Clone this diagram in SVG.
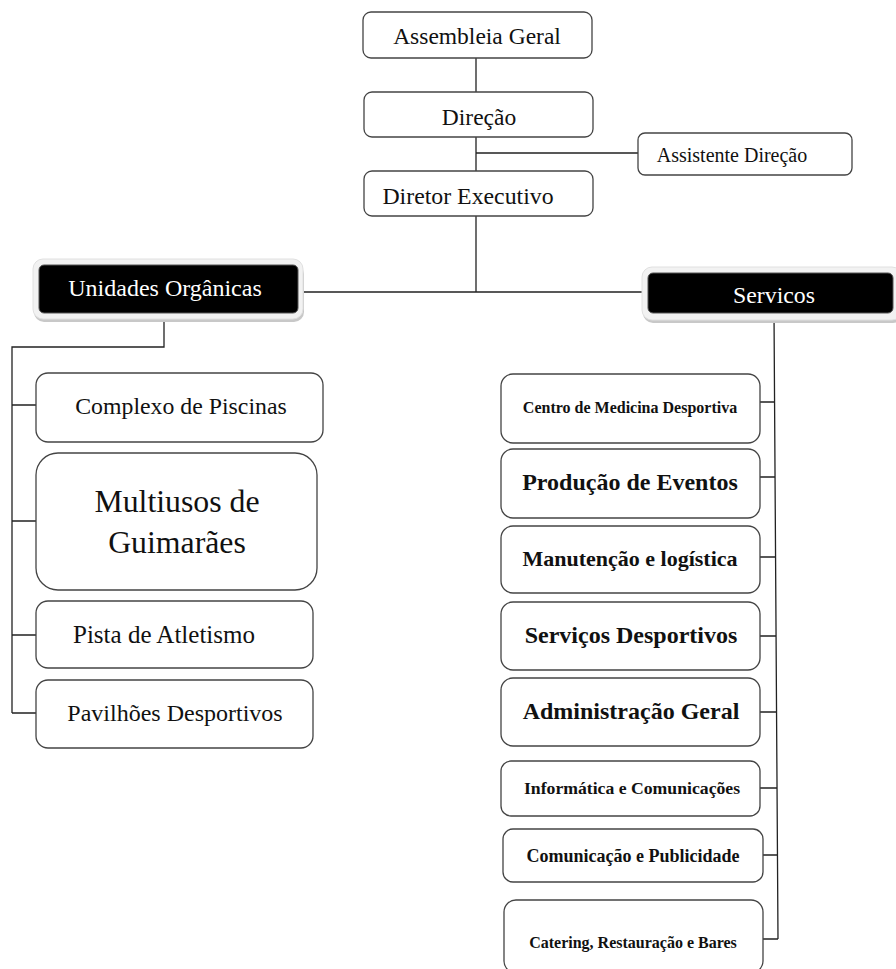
<svg xmlns="http://www.w3.org/2000/svg" width="896" height="969" viewBox="0 0 896 969">
<defs>
<style>
.box{fill:#fff;stroke:#444;stroke-width:1.3}
.ln{fill:none;stroke:#222;stroke-width:1.3}
.t{font-family:"Liberation Serif","Times New Roman",serif;fill:#111;text-anchor:middle}
.b{font-weight:bold}
.w{fill:#fff}
.glow{fill:#f2f2f2;stroke:#e0e0e0;stroke-width:1}
.shadow{fill:#c8c8c8}
.dark{fill:#000;stroke:#555;stroke-width:1}
</style>
</defs>
<rect width="896" height="969" fill="#fff"/>
<g id="connectors">
<path class="ln" d="M476 58V92M476 137V171M476 153H638M476 216V292M298 292H648"/>
<path class="ln" d="M164 313V347H12V713M12 405H36M12 521H36M12 635H36M12 713H36"/>
<path class="ln" d="M774 313L778 939M760 402H775M760 477H775M760 557H776M760 636H776M760 712H777M760 788H777M763 855H777M763 939H778"/>
</g>
<g id="n-assembleia"><rect class="box" x="363" y="12" width="229" height="46" rx="8"/><text class="t" x="477" y="44" font-size="23.5">Assembleia Geral</text></g>
<g id="n-direcao"><rect class="box" x="364" y="92" width="229" height="45" rx="8"/><text class="t" x="479" y="125" font-size="23.5">Direção</text></g>
<g id="n-assistente"><rect class="box" x="638" y="133" width="214" height="42" rx="7"/><text class="t" x="732" y="162" font-size="20">Assistente Direção</text></g>
<g id="n-diretor"><rect class="box" x="364" y="171" width="229" height="45" rx="8"/><text class="t" x="468" y="204" font-size="23.8">Diretor Executivo</text></g>
<g id="n-unidades">
<rect class="shadow" x="34" y="264" width="270" height="58" rx="10"/>
<rect class="glow" x="33" y="259" width="270" height="60" rx="10"/>
<rect class="dark" x="39" y="265" width="259" height="48" rx="5"/>
<text class="t w" x="165" y="296" font-size="24">Unidades Orgânicas</text>
</g>
<g id="n-servicos">
<rect class="shadow" x="643" y="272" width="260" height="51" rx="10"/>
<rect class="glow" x="642" y="267" width="260" height="53" rx="10"/>
<rect class="dark" x="648" y="273" width="245" height="40" rx="5"/>
<text class="t w" x="774" y="303" font-size="23.8">Servicos</text>
</g>
<g id="n-complexo"><rect class="box" x="36" y="373" width="287" height="69" rx="12"/><text class="t" x="181" y="414" font-size="23.8">Complexo de Piscinas</text></g>
<g id="n-multiusos"><rect class="box" x="36" y="453" width="281" height="137" rx="22"/><text class="t" x="177" y="512" font-size="31.8">Multiusos de</text><text class="t" x="177" y="553" font-size="31.8">Guimarães</text></g>
<g id="n-pista"><rect class="box" x="36" y="601" width="277" height="67" rx="12"/><text class="t" x="164" y="643" font-size="25">Pista de Atletismo</text></g>
<g id="n-pavilhoes"><rect class="box" x="36" y="680" width="277" height="68" rx="12"/><text class="t" x="175" y="721" font-size="24">Pavilhões Desportivos</text></g>
<g id="n-centro"><rect class="box" x="501" y="374" width="259" height="69" rx="12"/><text class="t b" x="630" y="413" font-size="16">Centro de Medicina Desportiva</text></g>
<g id="n-producao"><rect class="box" x="501" y="449" width="259" height="69" rx="12"/><text class="t b" x="630" y="490" font-size="24">Produção de Eventos</text></g>
<g id="n-manutencao"><rect class="box" x="501" y="526" width="259" height="67" rx="12"/><text class="t b" x="630" y="566" font-size="22">Manutenção e logística</text></g>
<g id="n-servicosdesp"><rect class="box" x="501" y="602" width="259" height="68" rx="12"/><text class="t b" x="631" y="643" font-size="24">Serviços Desportivos</text></g>
<g id="n-administracao"><rect class="box" x="501" y="678" width="259" height="68" rx="12"/><text class="t b" x="631" y="719" font-size="24">Administração Geral</text></g>
<g id="n-informatica"><rect class="box" x="501" y="761" width="259" height="55" rx="10"/><text class="t b" x="632" y="794" font-size="17.7">Informática e Comunicações</text></g>
<g id="n-comunicacao"><rect class="box" x="503" y="829" width="260" height="53" rx="10"/><text class="t b" x="633" y="862" font-size="18">Comunicação e Publicidade</text></g>
<g id="n-catering"><rect class="box" x="504" y="900" width="259" height="73" rx="12"/><text class="t b" x="633" y="948" font-size="16">Catering, Restauração e Bares</text></g>
</svg>
